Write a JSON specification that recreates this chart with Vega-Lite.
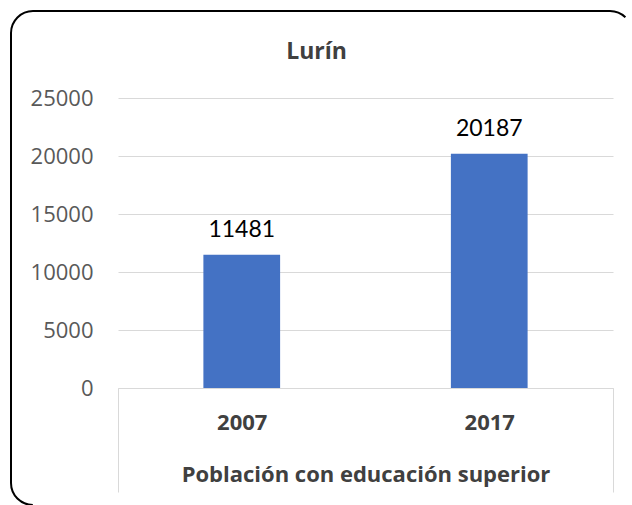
{
  "$schema": "https://vega.github.io/schema/vega-lite/v6.json",
  "width": 621,
  "height": 494,
  "autosize": {"type": "none"},
  "padding": {"left": 11, "top": 11, "right": 0, "bottom": 0},
  "background": "white",
  "title": {
    "text": "Lurín",
    "font": "Open Sans",
    "fontSize": 23,
    "fontWeight": "bold",
    "color": "#404040",
    "anchor": "middle",
    "dx": -5,
    "offset": -53
  },
  "data": {
    "values": [
      {"year": "2007", "value": 11481},
      {"year": "2017", "value": 20187}
    ]
  },
  "encoding": {
    "x": {
      "field": "year",
      "type": "nominal",
      "sort": null,
      "scale": {"range": [107, 602], "paddingInner": 0, "paddingOuter": 0},
      "axis": {
        "orient": "bottom",
        "offset": -117,
        "title": "Población con educación superior",
        "titleFont": "Open Sans",
        "titleFontSize": 22,
        "titleFontWeight": "bold",
        "titleColor": "#404040",
        "titleY": 93,
        "titleBaseline": "alphabetic",
        "labelAngle": 0,
        "labelFont": "Open Sans",
        "labelFontSize": 22,
        "labelFontWeight": "bold",
        "labelColor": "#404040",
        "labelBaseline": "middle",
        "labelPadding": -70,
        "domainColor": "#d9d9d9",
        "domainWidth": 1,
        "tickBand": "extent",
        "tickSize": 104,
        "tickWidth": 1,
        "tickColor": {"condition": {"test": "datum.value === '2007'", "value": "transparent"}, "value": "#d9d9d9"},
        "grid": false
      }
    },
    "y": {
      "field": "value",
      "type": "quantitative",
      "scale": {"domain": [0, 25000], "range": [377, 87], "nice": false, "zero": true},
      "axis": {
        "values": [0, 5000, 10000, 15000, 20000, 25000],
        "format": "d",
        "offset": -107,
        "domain": false,
        "ticks": false,
        "labelPadding": 25,
        "labelFont": "Open Sans",
        "labelFontSize": 22,
        "labelColor": "#595959",
        "grid": true,
        "gridColor": "#d9d9d9",
        "gridWidth": 1,
        "title": null
      }
    }
  },
  "layer": [
    {"mark": {"type": "bar", "color": "#4472C4", "width": {"band": 0.31}}},
    {
      "mark": {"type": "text", "font": "Lato", "fontSize": 23, "color": "#000000", "baseline": "alphabetic", "dy": -18},
      "encoding": {"text": {"field": "value", "type": "quantitative", "format": "d"}}
    }
  ],
  "config": {"view": {"stroke": "#000000", "strokeWidth": 2, "cornerRadius": 22, "strokeDash": [594, 1079, 700]}}
}
